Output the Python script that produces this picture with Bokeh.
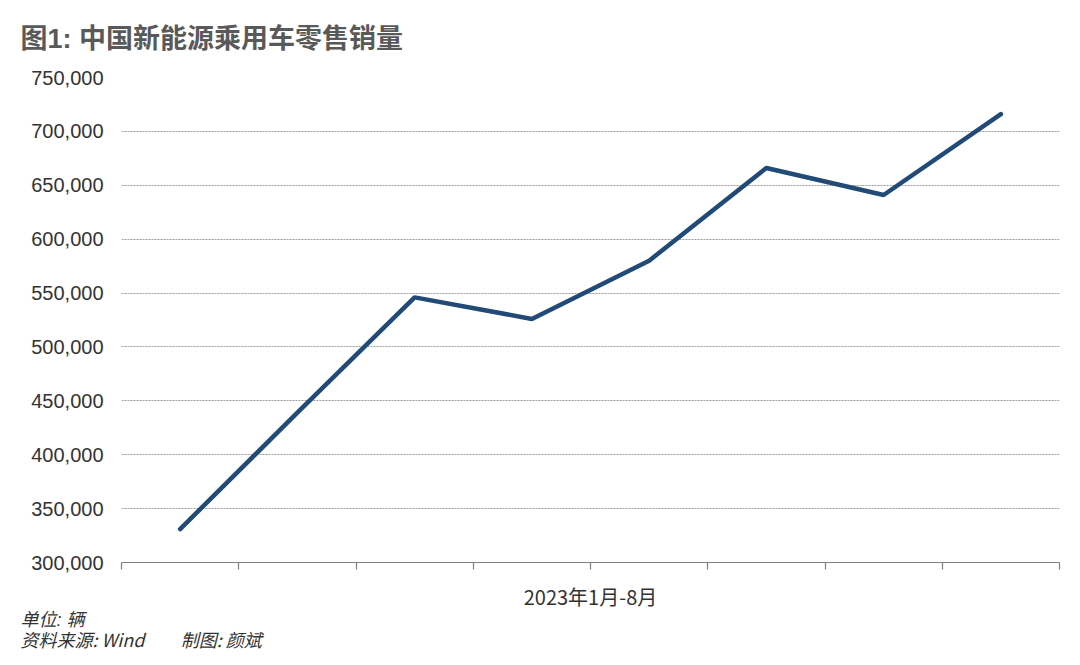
from bokeh.plotting import figure
from bokeh.models import Title, FixedTicker, NumeralTickFormatter, Range1d
from bokeh.embed import file_html
from bokeh.resources import INLINE

# ---- data ----
months = ["1月", "2月", "3月", "4月", "5月", "6月", "7月", "8月"]
sales = [331000, 439000, 546000, 526000, 580000, 666000, 641000, 716000]
y_ticks = [300000, 350000, 400000, 450000, 500000, 550000, 600000, 650000, 700000, 750000]

title_text = "图1: 中国新能源乘用车零售销量"
x_label = "2023年1月-8月"
note_unit = "单位: 辆"
note_source = "资料来源: Wind" + "\u00a0" * 9 + "制图: 颜斌"

CJK = "Noto Sans CJK SC"
LAT = "Liberation Sans"
MIX = "Liberation Sans, Noto Sans CJK SC"

xs = [i + 0.5 for i in range(len(months))]

p = figure(width=1064, height=662, output_backend="svg", toolbar_location=None,
           x_range=Range1d(0, len(months)), y_range=Range1d(y_ticks[0], y_ticks[-1]),
           min_border_left=121, min_border_right=5, min_border_top=77, min_border_bottom=0)
p.outline_line_color = None
p.background_fill_color = "white"

p.line(xs, sales, line_color="#214b76", line_width=4.5, line_cap="round")

# y axis
p.yaxis.ticker = FixedTicker(ticks=y_ticks)
p.yaxis.formatter = NumeralTickFormatter(format="0,0")
p.yaxis.axis_line_color = None
p.yaxis.major_tick_line_color = None
p.yaxis.minor_tick_line_color = None
p.yaxis.major_label_text_font = LAT
p.yaxis.major_label_text_font_size = "20px"
p.yaxis.major_label_text_color = "#333333"
p.yaxis.major_label_standoff = 12

# x axis
p.xaxis.ticker = FixedTicker(ticks=list(range(len(months) + 1)))
p.xaxis.major_label_overrides = {i: "" for i in range(len(months) + 1)}
p.xaxis.axis_line_color = "#7f7f7f"
p.xaxis.axis_line_width = 1.2
p.xaxis.major_tick_line_color = "#7f7f7f"
p.xaxis.major_tick_line_width = 1.2
p.xaxis.major_tick_in = 0
p.xaxis.major_tick_out = 7
p.xaxis.minor_tick_line_color = None
p.xaxis.axis_label = x_label
p.xaxis.axis_label_text_font = CJK
p.xaxis.axis_label_text_font_size = "20px"
p.xaxis.axis_label_text_font_style = "normal"
p.xaxis.axis_label_text_color = "#333333"
p.xaxis.axis_label_standoff = 12

# grid
p.xgrid.grid_line_color = None
p.ygrid.ticker = FixedTicker(ticks=y_ticks[1:])
p.ygrid.grid_line_color = "#9a9a9a"
p.ygrid.grid_line_dash = "2 1"
p.ygrid.grid_line_width = 1

# title
p.add_layout(Title(text=title_text, align="left", offset=-101, standoff=44,
                   vertical_align="top",
                   text_font=MIX, text_font_size="27px", text_font_style="bold",
                   text_color="#595959"), "above")

# notes below
p.add_layout(Title(text=note_unit, align="left", offset=-101, standoff=-33,
                   text_font=MIX, text_font_size="18px", text_font_style="italic",
                   text_color="#333333"), "below")
p.add_layout(Title(text=note_source, align="left", offset=-101, standoff=21,
                   text_font=CJK, text_font_size="18px", text_font_style="italic",
                   text_color="#333333"), "below")

open("out.html", "w").write(file_html(p, INLINE))
